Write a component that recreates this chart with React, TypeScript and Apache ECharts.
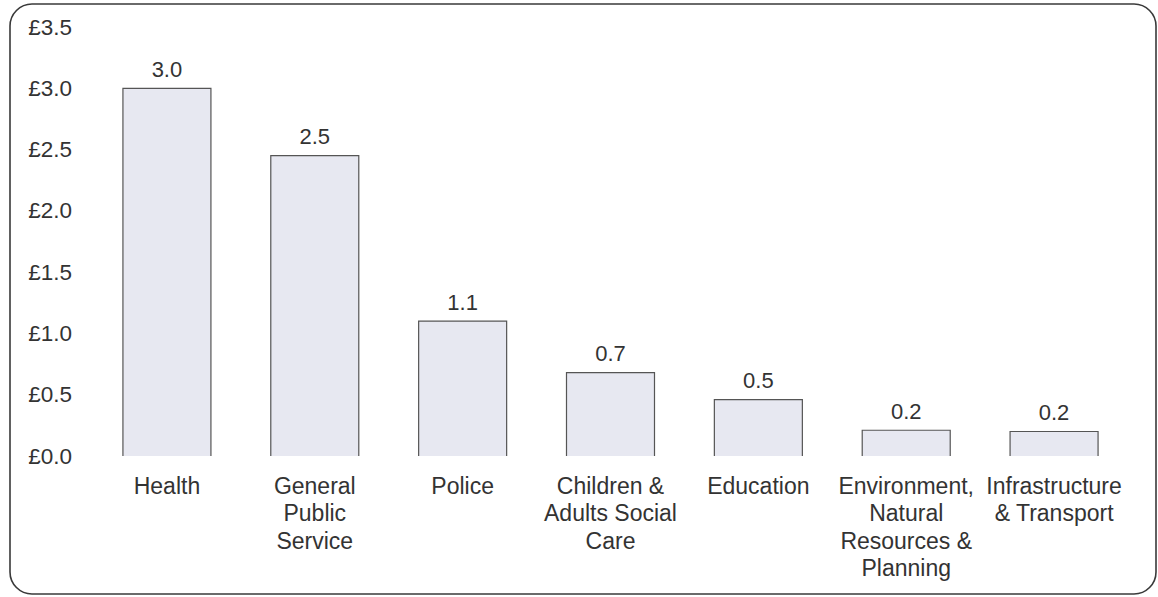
import React, { useEffect, useRef } from "react";
import * as echarts from "echarts";

// Spending by service area (£)
const categories = [
  "Health",
  "General\nPublic\nService",
  "Police",
  "Children &\nAdults Social\nCare",
  "Education",
  "Environment,\nNatural\nResources &\nPlanning",
  "Infrastructure\n& Transport",
];
const values = [3.0, 2.45, 1.1, 0.68, 0.46, 0.21, 0.2];
const yTicks = { min: 0, max: 3.5, interval: 0.5 };

const FONT = "'Liberation Sans', Arial, sans-serif";
const TEXT = "#333333";

export default function App() {
  const ref = useRef<HTMLDivElement>(null);

  useEffect(() => {
    document.body.style.margin = "0";
    if (!ref.current) return;
    const chart = echarts.init(ref.current, undefined, { renderer: "svg" });

    chart.setOption({
      animation: false,
      backgroundColor: "#ffffff",
      textStyle: { fontFamily: FONT },
      graphic: [
        {
          type: "rect",
          shape: { x: 10, y: 4, width: 1146, height: 590, r: 22 },
          style: { fill: "none", stroke: "#3a3a3a", lineWidth: 1.6 },
          silent: true,
          z: -1,
        },
      ],
      grid: { left: 93, right: 30, top: 27, bottom: 141 },
      xAxis: {
        type: "category",
        data: categories,
        axisLine: { show: false },
        axisTick: { show: false },
        axisLabel: {
          interval: 0,
          hideOverlap: false,
          color: TEXT,
          fontSize: 23,
          lineHeight: 27.5,
          margin: 16,
          fontFamily: FONT,
        },
      },
      yAxis: {
        type: "value",
        min: yTicks.min,
        max: yTicks.max,
        interval: yTicks.interval,
        splitLine: { show: false },
        axisLine: { show: false },
        axisTick: { show: false },
        axisLabel: {
          color: TEXT,
          fontSize: 22.5,
          margin: 21,
          fontFamily: FONT,
          formatter: (v: number) => "£" + v.toFixed(1),
        },
      },
      series: [
        {
          type: "bar",
          data: values,
          barWidth: 88,
          itemStyle: { color: "#e7e8f1" },
          label: {
            show: true,
            position: "top",
            distance: 8,
            color: TEXT,
            fontSize: 22,
            fontFamily: FONT,
            formatter: (p: any) => (Math.round(p.value * 10) / 10).toFixed(1),
          },
        },
        {
          // open-bottomed outline around each bar
          type: "custom",
          data: values.map((v, i) => [i, v]),
          encode: { x: 0, y: 1 },
          z: 3,
          renderItem: (params: any, api: any) => {
            const i = api.value(0);
            const v = api.value(1);
            const top = api.coord([i, v]);
            const base = api.coord([i, 0]);
            const half = 44;
            return {
              type: "polyline",
              shape: {
                points: [
                  [top[0] - half, base[1]],
                  [top[0] - half, top[1]],
                  [top[0] + half, top[1]],
                  [top[0] + half, base[1]],
                ],
              },
              style: { fill: "none", stroke: "#555555", lineWidth: 1.2 },
            };
          },
        },
      ],
    });

    return () => chart.dispose();
  }, []);

  return <div ref={ref} style={{ width: 1158, height: 597 }} />;
}
